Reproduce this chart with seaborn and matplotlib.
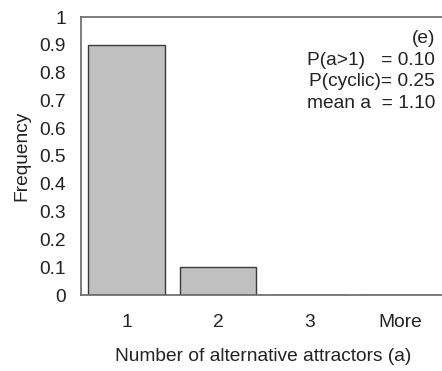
import matplotlib
matplotlib.use("Agg")
import matplotlib.pyplot as plt
import seaborn as sns
import pandas as pd
import numpy as np
from matplotlib.ticker import FixedLocator

categories = ["1", "2", "3", "More"]
frequency = [0.90, 0.10, 0.0, 0.0]
ytick_values = [0, 0.1, 0.2, 0.3, 0.4, 0.5, 0.6, 0.7, 0.8, 0.9, 1.0]
ytick_labels = ["0", "0.1", "0.2", "0.3", "0.4", "0.5", "0.6", "0.7", "0.8", "0.9", "1"]
annot_lines = ["(e)", "P(a>1)   = 0.10", "P(cyclic)= 0.25", "mean a  = 1.10"]

sns.set_style("white")
plt.rcParams['font.family'] = ['Liberation Sans', 'DejaVu Sans']

df = pd.DataFrame({"a": categories, "freq": frequency})

fig = plt.figure(figsize=(4.42, 3.71), dpi=100)
ax = fig.add_axes([81/442, 76/371, 365/442, 278/371])

sns.barplot(data=df, x="a", y="freq", ax=ax, color="#c0c0c0",
            edgecolor="#3a3a3a", linewidth=1.0, width=0.84, saturation=1)

fs = 13.8
ax.set_xlim(-0.5, 3.5)
ax.set_ylim(0, 1)
ax.set_yticks(ytick_values)
ax.set_yticklabels(ytick_labels, fontsize=fs, color="#222222")
ax.tick_params(axis="y", direction="out", length=4, color="#888888", width=0.8, pad=7)
ax.set_xticks(range(len(categories)))
ax.set_xticklabels(categories, fontsize=fs, color="#222222")
ax.tick_params(axis="x", which="major", length=0, pad=14)
ax.xaxis.set_minor_locator(FixedLocator([0.5, 1.5, 2.5]))
ax.tick_params(axis="x", which="minor", direction="in", length=5, color="#aaaaaa", width=0.8)

for s in ["left", "bottom", "top"]:
    ax.spines[s].set_visible(True)
    ax.spines[s].set_color("#666666")
    ax.spines[s].set_linewidth(1.2)
ax.spines["right"].set_visible(False)

ax.set_xlabel("Number of alternative attractors (a)", fontsize=fs, color="#222222", labelpad=12)
ax.set_ylabel("Frequency", fontsize=fs, color="#222222", labelpad=6)

baselines = [43, 65, 86, 108]
for t, y in zip(annot_lines, baselines):
    fig.text(435/442, 1 - y/371, t, ha="right", va="baseline", fontsize=fs, color="#222222")

fig.savefig("out.png", dpi=100)
